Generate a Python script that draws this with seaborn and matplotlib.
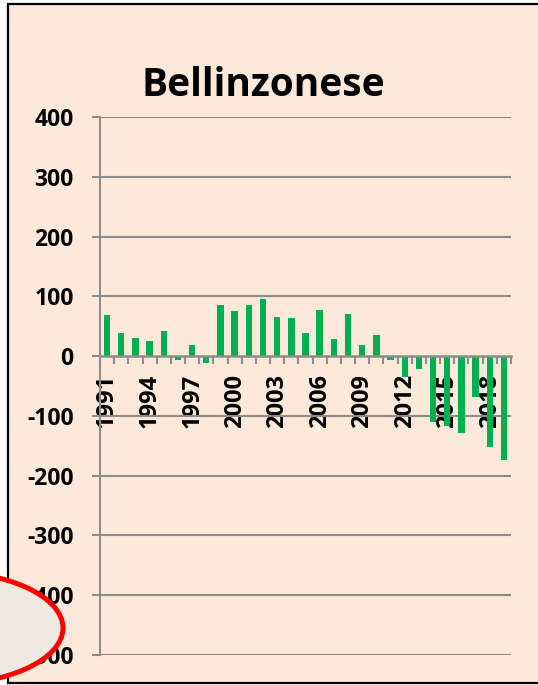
import matplotlib
matplotlib.use("Agg")
import matplotlib.pyplot as plt
import seaborn as sns
import pandas as pd
from matplotlib.patches import Rectangle, Ellipse

# Dati
anni = [str(a) for a in range(1991, 2020)]
valori = [68, 39, 31, 26, 42, -6, 19, -11, 86, 75, 85, 96, 66, 63, 38,
          77, 29, 71, 19, 36, -7, -35, -21, -110, -117, -129, -69, -152, -173]
etichette_y = [400, 300, 200, 100, 0, -100, -200, -300, -400, -500]

df = pd.DataFrame({"anno": anni, "valore": valori})

sns.set_theme(style="white")
plt.rcParams["font.family"] = ["Open Sans", "DejaVu Sans"]
plt.rcParams["axes.unicode_minus"] = False

W, H = 538, 685
fig = plt.figure(figsize=(W / 100, H / 100), dpi=100, facecolor="white")
peach = "#FDE9D9"
grigio = "#8C8C8C"

# Cornice
fig.patches.append(Rectangle((8 / W, 1 - 683 / H), 1.0, (683 - 4) / H,
                             transform=fig.transFigure, facecolor=peach,
                             edgecolor="black", lw=1.6, zorder=-10))

ax = fig.add_axes([100 / W, 1 - 655 / H, (511 - 100) / W, (655 - 117) / H])
ax.set_facecolor("none")

sns.barplot(data=df, x="anno", y="valore", color="#00B050", saturation=1,
            width=0.45, linewidth=0, ax=ax, zorder=3)

ax.set_ylim(-500, 400)
ax.set_xlim(-0.5, len(anni) - 0.5)
ax.set_yticks(etichette_y)
ax.set_yticklabels([str(v) for v in etichette_y], fontweight="bold",
                   fontsize=16.5, color="black")
for v in etichette_y:
    if v != 0:
        ax.axhline(v, color=grigio, lw=1.5, zorder=1)

for s in ["top", "right"]:
    ax.spines[s].set_visible(False)
ax.spines["left"].set_color(grigio)
ax.spines["left"].set_linewidth(1.5)
ax.spines["bottom"].set_position(("data", 0))
ax.spines["bottom"].set_color(grigio)
ax.spines["bottom"].set_linewidth(1.8)
ax.spines["bottom"].set_zorder(4)

ax.tick_params(axis="y", length=6, width=1.5, color=grigio, direction="out",
               left=True, pad=13)

# Tacche tra le categorie, etichette ogni 3 anni
ax.set_xticks([i - 0.5 for i in range(len(anni) + 1)], minor=True)
ax.set_xticks(range(0, len(anni), 3))
ax.set_xticklabels(anni[::3], rotation=90, fontweight="bold", fontsize=17,
                   color="black", va="top")
ax.tick_params(axis="x", which="minor", length=6, width=1.5, color=grigio,
               direction="out", bottom=True)
ax.tick_params(axis="x", which="major", length=0, pad=13, bottom=True)
ax.set_xlabel("")
ax.set_ylabel("")

fig.text(263 / W, 1 - 86 / H, "Bellinzonese", ha="center", va="center",
         fontsize=28, fontweight="bold", color="black")

# Ellisse rossa
fig.patches.append(Ellipse((-60 / W, 1 - 628 / H), 246 / W, 114 / H,
                           transform=fig.transFigure, facecolor="#EEEAE0",
                           edgecolor="#FF0000", lw=3.6, zorder=10))

plt.savefig("out.png", dpi=100, facecolor="white")
